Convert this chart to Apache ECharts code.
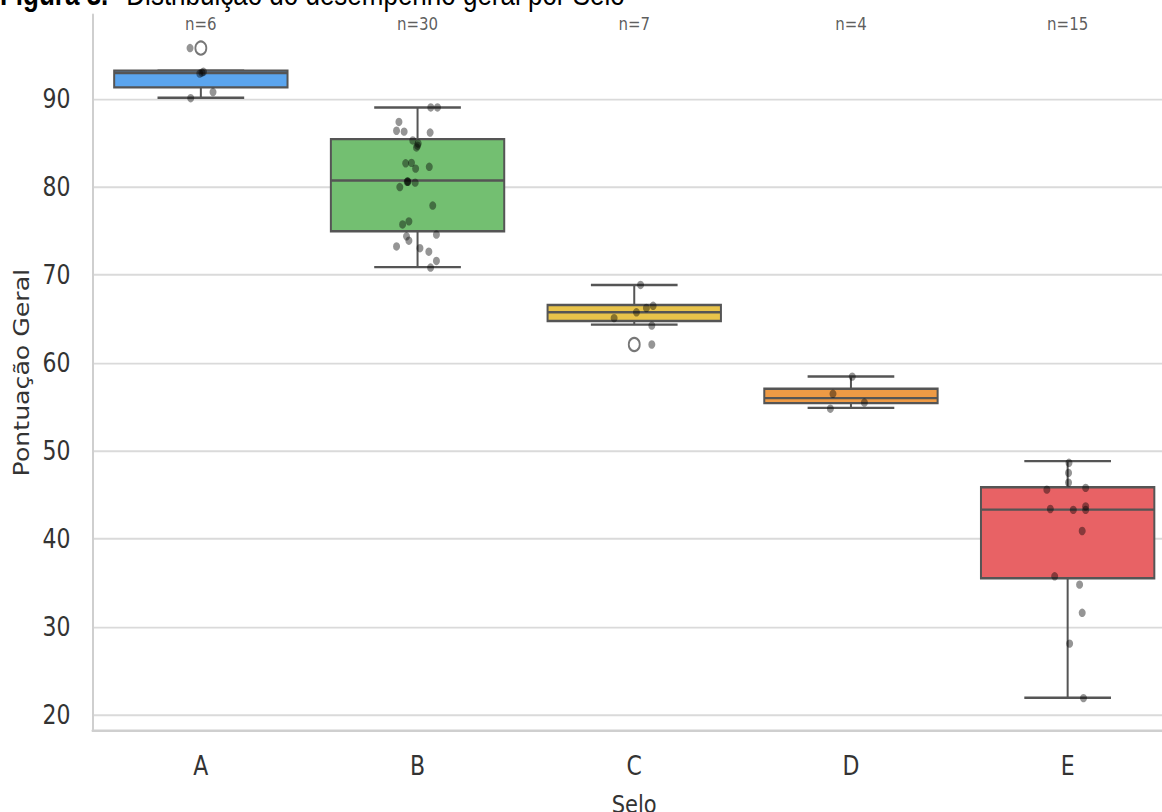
<!DOCTYPE html>
<html><head><meta charset="utf-8">
<script src="https://cdn.jsdelivr.net/npm/echarts@6/dist/echarts.min.js"></script>
<style>
html,body{margin:0;padding:0;background:#fff;overflow:hidden;}
#stage{width:1162px;height:812px;overflow:hidden;position:relative;background:#fff;}
#chart{width:1176px;height:676.667px;transform:scaleY(1.2);transform-origin:0 0;}
</style></head>
<body><div id="stage"><div id="chart"></div></div>
<script>
// ---------------- data ----------------
const CATEGORIES = ['A', 'B', 'C', 'D', 'E'];

// box statistics
const WHISKER_LOW  = [90.15, 70.9, 64.36, 54.9, 21.94];
const Q1           = [91.33, 74.98, 64.77, 55.44, 35.52];
const MEDIAN       = [92.96, 80.75, 65.76, 56.0, 43.33];
const Q3           = [93.24, 85.45, 66.6, 57.07, 45.88];
const WHISKER_HIGH = [93.24, 89.05, 68.87, 58.47, 48.84];

// outliers (hollow circles)
const OUTLIERS_A = [95.8];
const OUTLIERS_B = [];
const OUTLIERS_C = [62.1];
const OUTLIERS_D = [];
const OUTLIERS_E = [];

// individual observations (strip plot) and their horizontal jitter (category units)
const POINTS_A = [95.8, 93.0, 93.1, 92.9, 90.8, 90.1];
const JITTER_A = [-0.05, 0.005, 0.012, -0.005, 0.056, -0.047];
const POINTS_B = [89.05, 89.05, 87.4, 86.4, 86.3, 86.2, 85.3, 84.95, 84.5, 84.7, 82.7, 82.75, 82.1, 82.3,
                  80.6, 80.6, 80.65, 80.5, 80.0, 77.9, 76.1, 75.75, 74.6, 74.4, 73.9, 73.25, 73.05, 72.65, 71.6, 70.85];
const JITTER_B = [0.061, 0.092, -0.086, -0.097, -0.062, 0.058, -0.022, 0.003, -0.005, 0.0, -0.055, -0.028, -0.009, 0.054,
                  -0.048, -0.044, -0.046, -0.011, -0.082, 0.070, -0.040, -0.069, 0.087, -0.051, -0.040, -0.097, 0.011, 0.052, 0.087, 0.060];
const POINTS_C = [68.87, 66.25, 66.5, 65.76, 65.1, 64.25, 62.1];
const JITTER_C = [0.029, 0.056, 0.087, 0.010, -0.093, 0.081, 0.081];
const POINTS_D = [58.45, 56.5, 55.5, 54.8];
const JITTER_D = [0.006, -0.083, 0.062, -0.095];
const POINTS_E = [48.65, 47.5, 46.4, 45.6, 45.8, 43.4, 43.3, 43.7, 43.3, 40.9, 35.75, 34.8, 31.6, 28.1, 21.9];
const JITTER_E = [0.006, 0.004, 0.004, -0.096, 0.083, -0.080, 0.026, 0.083, 0.083, 0.067, -0.060, 0.055, 0.067, 0.009, 0.073];

const POINTS = [POINTS_A, POINTS_B, POINTS_C, POINTS_D, POINTS_E];
const JITTER = [JITTER_A, JITTER_B, JITTER_C, JITTER_D, JITTER_E];
const OUTLIERS = [OUTLIERS_A, OUTLIERS_B, OUTLIERS_C, OUTLIERS_D, OUTLIERS_E];

// ---------------- style ----------------
const BOX_COLORS = ['#5ba5ee', '#73bf71', '#e8c34a', '#ee9a45', '#e86265'];
const EDGE = '#555555';
const FONT = 'DejaVu Sans';
const N_LABEL_LEVEL = 98.5; // vertical placement of the "n=" annotations (value units)

const boxData = CATEGORIES.map((c, i) => [i, WHISKER_LOW[i], Q1[i], MEDIAN[i], Q3[i], WHISKER_HIGH[i]]);
const pointData = [];
POINTS.forEach((arr, i) => arr.forEach((v, j) => pointData.push([i + JITTER[i][j], v])));
const outlierData = [];
OUTLIERS.forEach((arr, i) => arr.forEach(v => outlierData.push([i, v])));
const nData = CATEGORIES.map((c, i) => [i, N_LABEL_LEVEL]);

function renderBox(params, api) {
  const i = api.value(0);
  const band = api.size([1, 0])[0];
  const half = band * 0.4, capHalf = band * 0.2;
  const cx = api.coord([i, api.value(3)])[0];
  const y = k => api.coord([i, api.value(k)])[1];
  const lo = y(1), q1 = y(2), md = y(3), q3 = y(4), hi = y(5);
  const ls = { stroke: EDGE, lineWidth: 2 };
  return {
    type: 'group',
    children: [
      { type: 'line', shape: { x1: cx, y1: q3, x2: cx, y2: hi }, style: ls },
      { type: 'line', shape: { x1: cx, y1: q1, x2: cx, y2: lo }, style: ls },
      { type: 'line', shape: { x1: cx - capHalf, y1: hi, x2: cx + capHalf, y2: hi }, style: ls },
      { type: 'line', shape: { x1: cx - capHalf, y1: lo, x2: cx + capHalf, y2: lo }, style: ls },
      { type: 'rect', shape: { x: cx - half, y: q3, width: 2 * half, height: q1 - q3 },
        style: { fill: BOX_COLORS[i], stroke: EDGE, lineWidth: 2 } },
      { type: 'line', shape: { x1: cx - half, y1: md, x2: cx + half, y2: md }, style: ls }
    ]
  };
}

const chart = echarts.init(document.getElementById('chart'), null, { renderer: 'svg' });
chart.setOption({
  animation: false,
  backgroundColor: '#ffffff',
  title: {
    text: '{b|Figura 3.}Distribuição do desempenho geral por Selo',
    left: -5, top: -23,
    textStyle: {
      fontFamily: 'Liberation Sans', fontSize: 26, fontWeight: 'normal', color: '#000',
      rich: { b: { fontFamily: 'Liberation Sans', fontSize: 26, fontWeight: 'bold', color: '#000', padding: [0, 18, 0, 0] } }
    }
  },
  grid: { left: 92.5, right: 0, top: 12.2, bottom: 68.1, outerBoundsMode: 'none', containLabel: false },
  xAxis: [
    {
      type: 'category', data: CATEGORIES, boundaryGap: true,
      axisLine: { show: true, onZero: false, lineStyle: { color: '#cfcfcf', width: 2 } },
      axisTick: { show: false },
      axisLabel: { fontSize: 22, color: '#333', margin: 18.5, fontFamily: FONT },
      splitLine: { show: false },
      name: 'Selo', nameLocation: 'middle', nameGap: 50,
      nameTextStyle: { fontSize: 21, color: '#333', fontFamily: FONT }
    },
    { type: 'value', min: -0.5, max: 4.5, show: false }
  ],
  yAxis: {
    type: 'value', min: 18.2, max: 99.6, minInterval: 10, maxInterval: 10,
    axisLine: { show: true, onZero: false, lineStyle: { color: '#cfcfcf', width: 2 } },
    axisTick: { show: false },
    axisLabel: {
      fontSize: 22, color: '#333', margin: 22, fontFamily: FONT,
      formatter: v => (Math.abs(v - Math.round(v / 10) * 10) < 1e-6 ? String(Math.round(v)) : '')
    },
    splitLine: { show: true, showMinLine: false, showMaxLine: false, lineStyle: { color: '#dadada', width: 1.6 } },
    name: 'Pontuação Geral', nameLocation: 'middle', nameGap: 61,
    nameTextStyle: { fontSize: 21, color: '#333', fontFamily: FONT }
  },
  series: [
    {
      type: 'custom', xAxisIndex: 0, yAxisIndex: 0, renderItem: renderBox,
      data: boxData, encode: { x: 0, y: [1, 2, 3, 4, 5] }, z: 2, silent: true
    },
    {
      type: 'scatter', xAxisIndex: 1, yAxisIndex: 0, data: pointData,
      symbolSize: 7, itemStyle: { color: 'rgba(0,0,0,0.52)' }, z: 4, silent: true
    },
    {
      type: 'scatter', xAxisIndex: 1, yAxisIndex: 0, data: outlierData,
      symbolSize: 11, itemStyle: { color: 'rgba(255,255,255,0)', borderColor: EDGE, borderWidth: 1.8 }, z: 5, silent: true
    },
    {
      type: 'scatter', xAxisIndex: 1, yAxisIndex: 0, data: nData, symbolSize: 0, silent: true,
      label: {
        show: true, position: 'inside', fontSize: 15, color: '#333', fontFamily: FONT,
        formatter: p => 'n=' + POINTS[p.dataIndex].length
      }
    }
  ]
});
</script>
</body></html>
